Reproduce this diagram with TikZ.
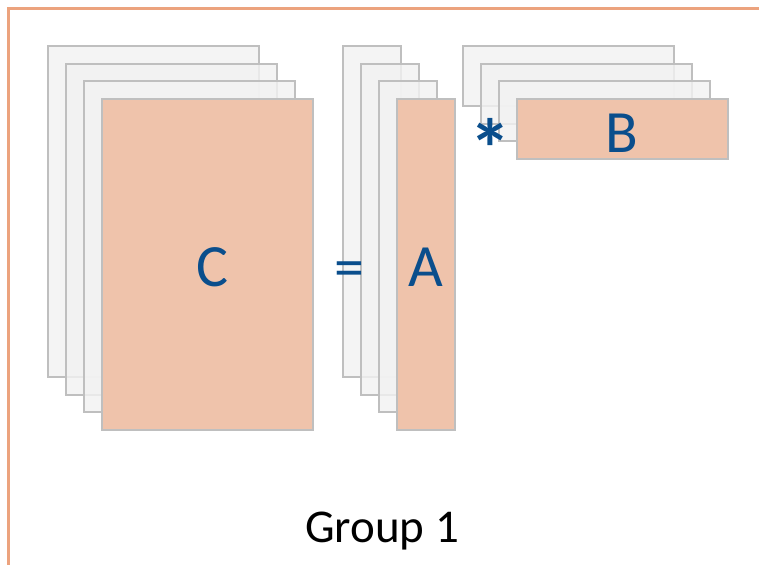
\documentclass[tikz,border=0pt]{standalone}
\usepackage{fontspec}
\setmainfont{Carlito}
\definecolor{frameorange}{RGB}{236,163,126}
\definecolor{matfill}{RGB}{239,195,171}
\definecolor{matedge}{RGB}{191,191,191}
\definecolor{layerfill}{RGB}{242,242,242}
\definecolor{labelblue}{RGB}{10,78,140}
\tikzset{
  layer/.style={draw=matedge, line width=2pt, fill=layerfill, fill opacity=0.82, draw opacity=1, rectangle, inner sep=0pt, anchor=north west},
  frontmat/.style={draw=matedge, line width=2pt, fill=matfill, rectangle, inner sep=0pt, anchor=north west},
  matlabel/.style={text=labelblue, font=\fontsize{60}{60}\selectfont, inner sep=0pt, anchor=base},
}
\begin{document}
\begin{tikzpicture}[x=1pt, y=-1pt]
\useasboundingbox (0,0) rectangle (759,565);
% group frame (top and left edges)
\draw[frameorange, line width=2.5pt] (759,8.5) -- (8.5,8.5) -- (8.5,565);

% C: batch of matrices
\foreach \k in {0,1,2} {
  \node[layer, minimum width=211pt, minimum height=331pt] (c\k) at (47+18*\k, 45+17.7*\k) {};
}
\node[frontmat, minimum width=211pt, minimum height=331pt] (c3) at (101,98) {};

% A: batch of matrices
\foreach \k in {0,1,2} {
  \node[layer, minimum width=58pt, minimum height=331pt] (a\k) at (342+18*\k, 45+17.7*\k) {};
}
\node[frontmat, minimum width=58pt, minimum height=331pt] (a3) at (396,98) {};

% B: batch of matrices
\foreach \k in {0,1,2} {
  \node[layer, minimum width=211pt, minimum height=60pt] (b\k) at (462+18*\k, 45+17.7*\k) {};
}
\node[frontmat, minimum width=211pt, minimum height=60pt] (b3) at (516,98) {};

% labels and operators
\node[matlabel] (lc) at (212,286) {C};
\node[matlabel] (leq) at (349.5,287) {=};
\node[matlabel] (la) at (426,286) {A};
\node[matlabel] (lb) at (622,152) {B};
\node[matlabel, font=\fontsize{84}{84}\bfseries\selectfont] (lstar) at (490,178) {*};
\node[font=\fontsize{47}{47}\selectfont, inner sep=0pt, anchor=base] (grp) at (382,542) {Group 1};
\end{tikzpicture}
\end{document}
